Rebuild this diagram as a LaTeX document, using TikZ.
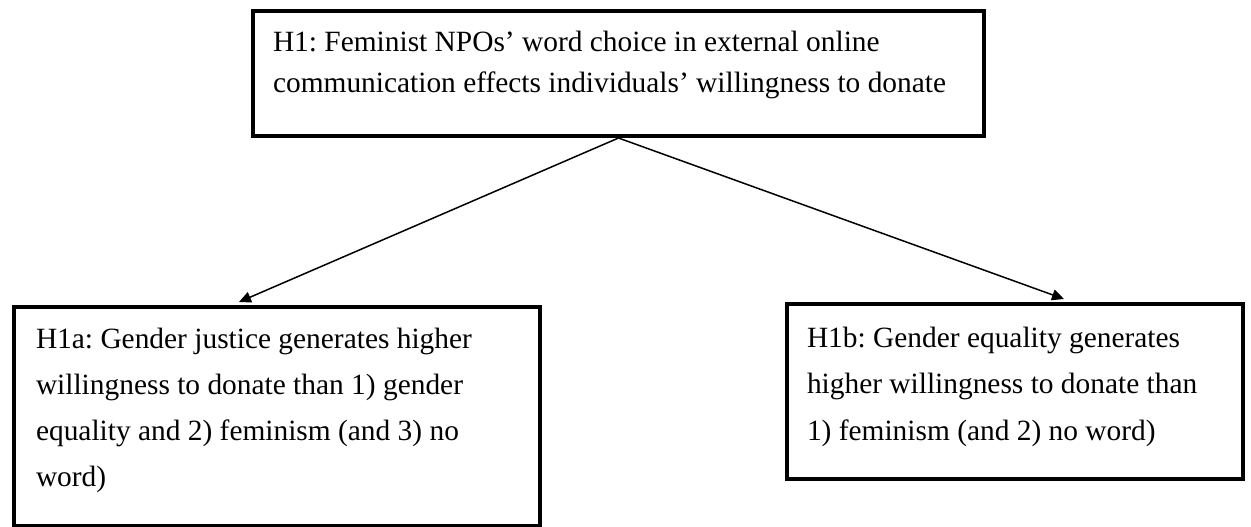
\documentclass[tikz,border=0pt]{standalone}
\usepackage{fontspec}
\setmainfont{Liberation Serif}
\usetikzlibrary{arrows.meta}
\tikzset{
  hbox/.style={draw=black, line width=4pt, inner ysep=0pt, anchor=north west, fill=white},
  conn/.style={line width=1.5pt, -{Triangle[length=12pt,width=11pt]}}
}
\newcommand{\boxtext}[5]{% width, height, first baseline, baselineskip, text
  \begin{minipage}[t][#2pt][t]{#1pt}\fontsize{29.4pt}{#4pt}\selectfont\frenchspacing\raggedright
  \rule{0pt}{#3pt}#5\end{minipage}}
\begin{document}
\begin{tikzpicture}[x=1pt,y=-1pt]
\useasboundingbox (0,0) rectangle (1251,527);
\node[hbox, inner xsep=20pt] (h1) at (251,9) {\boxtext{691}{125}{41}{41}{H1: Feminist NPOs’ word choice in external online\\communication effects individuals’ willingness to donate}};
\node[hbox, inner xsep=22pt] (h1a) at (12,305) {\boxtext{482}{219}{41}{46.3}{H1a: Gender justice generates higher\\willingness to donate than 1) gender\\equality and 2) feminism (and 3) no\\word)}};
\node[hbox, inner xsep=20pt] (h1b) at (785,302) {\boxtext{416}{175}{43}{46.5}{H1b: Gender equality generates\\higher willingness to donate than\\1) feminism (and 2) no word)}};
\draw[conn] (h1.south) -- ([xshift=-38pt,yshift=3pt]h1a.north);
\draw[conn] (h1.south) -- ([xshift=49pt,yshift=3pt]h1b.north);
\end{tikzpicture}
\end{document}
